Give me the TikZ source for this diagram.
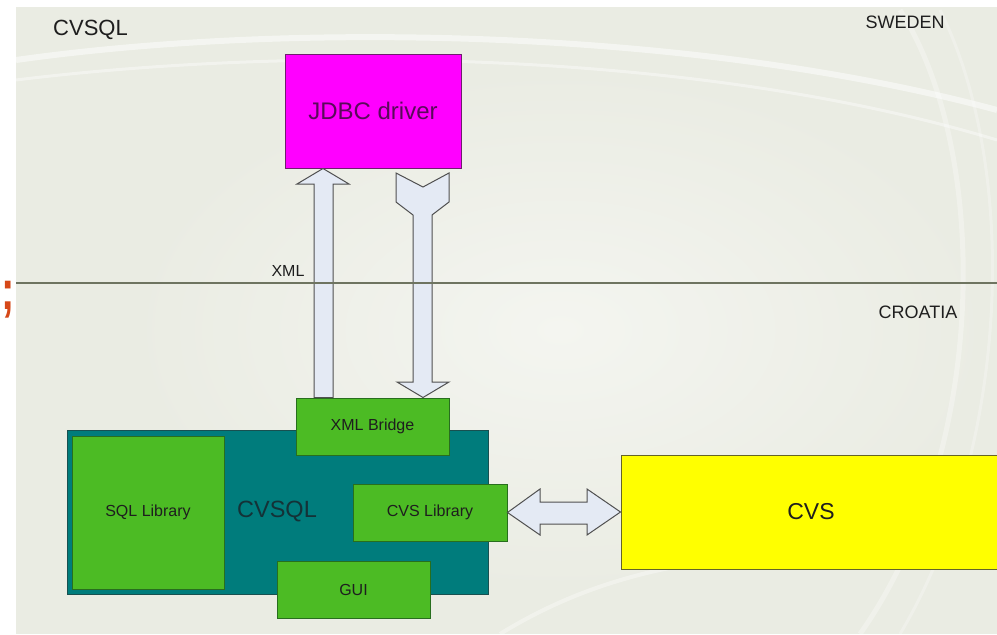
\documentclass[tikz,border=0pt]{standalone}
\usepackage{fontspec}
\setmainfont{Liberation Sans}
\definecolor{bgc}{RGB}{234,236,227}
\definecolor{bgl}{RGB}{244,245,240}
\definecolor{tealc}{RGB}{0,124,124}
\definecolor{tealdark}{RGB}{24,80,80}
\definecolor{grn}{RGB}{76,187,36}
\definecolor{grndark}{RGB}{40,110,30}
\definecolor{mag}{RGB}{255,0,255}
\definecolor{magdark}{RGB}{110,30,110}
\definecolor{yel}{RGB}{255,255,0}
\definecolor{yeldark}{RGB}{100,100,40}
\definecolor{arrfill}{RGB}{228,234,244}
\definecolor{arrline}{RGB}{80,80,80}
\definecolor{txt}{RGB}{30,30,30}
\definecolor{redmark}{RGB}{214,72,24}
\definecolor{divline}{RGB}{110,116,96}
\tikzset{
  box/.style={draw, line width=1pt, inner sep=0pt, anchor=center, text=txt},
  greenbox/.style={box, fill=grn, draw=grndark, font=\fontsize{16}{18}\selectfont},
  blockarrow/.style={fill=arrfill, draw=arrline, line width=1pt, line join=miter},
  lbl/.style={text=txt, inner sep=0pt}
}
\begin{document}
\begin{tikzpicture}[x=1pt,y=-1pt]
\useasboundingbox (0,0) rectangle (997,635);
% background
\fill[white] (0,0) rectangle (997,635);
\fill[bgc] (16,7) rectangle (997,634);
\begin{scope}
\clip (16,7) rectangle (997,634);
\shade[inner color=bgl, outer color=bgc] (560,330) ellipse (430 and 260);
\draw[white, opacity=0.5, line width=6pt] (16,60) .. controls (300,20) and (700,30) .. (997,110);
\draw[white, opacity=0.4, line width=3pt] (16,80) .. controls (300,45) and (700,50) .. (997,140);
\draw[white, opacity=0.3, line width=5pt] (900,10) .. controls (990,150) and (990,450) .. (860,634);
\draw[white, opacity=0.25, line width=3pt] (940,10) .. controls (1020,170) and (1010,450) .. (900,634);
\draw[white, opacity=0.35, line width=4pt] (500,634) .. controls (620,560) and (760,540) .. (997,560);
\end{scope}
% red fragment at left edge
\node[text=redmark, inner sep=0pt, font=\fontsize{40}{40}\selectfont\bfseries, yscale=1.4] (semi) at (8,300) {;};
% labels
\node[lbl, font=\fontsize{22}{24}\selectfont, anchor=west] (title) at (53,30) {CVSQL};
\node[lbl, font=\fontsize{18}{20}\selectfont] (sweden) at (905,22) {SWEDEN};
\node[lbl, font=\fontsize{18}{20}\selectfont] (croatia) at (918,312) {CROATIA};
% boxes
\node[box, fill=mag, draw=magdark, minimum width=176pt, minimum height=114pt, font=\fontsize{24}{26}\selectfont, text={rgb,255:red,90;green,10;blue,90}] (jdbc) at (373,111) {JDBC driver};
\node[box, fill=tealc, draw=tealdark, minimum width=421pt, minimum height=164pt] (main) at (277.5,512) {};
\node[lbl, font=\fontsize{23.5}{26}\selectfont, text={rgb,255:red,20;green,50;blue,55}] (maintxt) at (277,512) {CVSQL};
\node[greenbox, minimum width=152pt, minimum height=153pt] (sql) at (148,512.5) {SQL Library};
\node[greenbox, minimum width=153pt, minimum height=57pt] (xml) at (372.5,426.5) {XML Bridge};
\node[greenbox, minimum width=154pt, minimum height=57pt] (cvslib) at (430,512.5) {CVS Library};
\node[greenbox, minimum width=153pt, minimum height=57pt] (gui) at (353.5,589.5) {GUI};
\node[box, fill=yel, draw=yeldark, minimum width=380pt, minimum height=114pt, font=\fontsize{23}{25}\selectfont] (cvs) at (811,512) {CVS};
% block arrows
\path[blockarrow] (xml.north -| 314,0) -- (314,184) -- (297,184) -- (jdbc.south -| 323,0) -- (349,184) -- (333,184) -- (xml.north -| 333,0) -- cycle;
\path[blockarrow] (396,173) -- (423,187) -- (449,173) -- (449,202) -- (432,215) -- (432,382) -- (449,382) -- (xml.north -| 423,0) -- (397,382) -- (413,382) -- (413,215) -- (396,202) -- cycle;
\path[blockarrow] (cvslib.east) -- (540,489) -- (540,502) -- (587,502) -- (587,489) -- (cvs.west) -- (587,535) -- (587,524) -- (540,524) -- (540,535) -- cycle;
% divider
\coordinate (dl) at (16,283);
\coordinate (dr) at (997,283);
\draw[divline, line width=1.2pt] (dl) -- (dr);
\node[lbl, font=\fontsize{16}{18}\selectfont] (xmllbl) at (288,271) {XML};
\end{tikzpicture}
\end{document}
